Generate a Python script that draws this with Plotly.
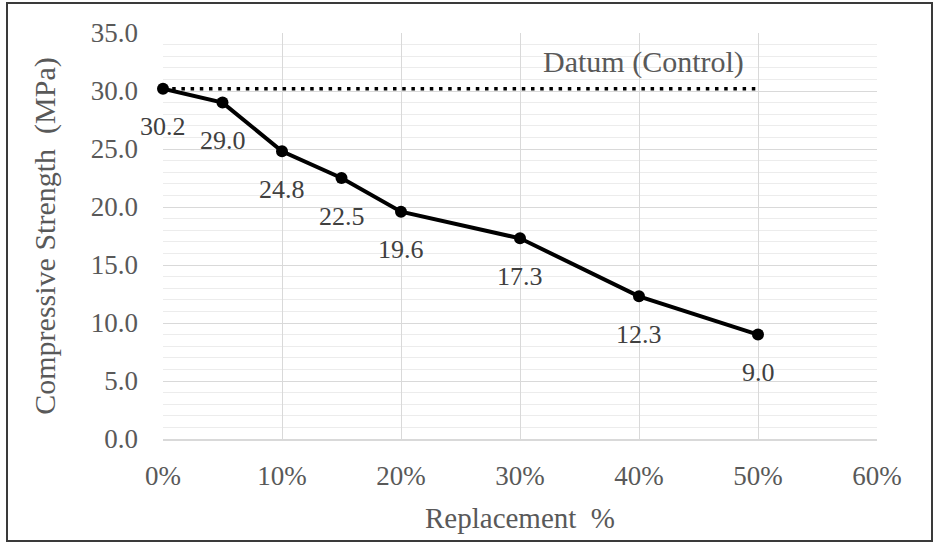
import plotly.graph_objects as go

replacement = [0.0, 0.05, 0.10, 0.15, 0.20, 0.30, 0.40, 0.50]
strength = [30.2, 29.0, 24.8, 22.5, 19.6, 17.3, 12.3, 9.0]
datum_x = [0.0, 0.50]
datum_y = [30.2, 30.2]
label_text = ["30.2", "29.0", "24.8", "22.5", "19.6", "17.3", "12.3", "9.0"]

W, H = 936, 543
ML, MR, MT, MB = 163, 59, 33, 104
FONT = "Liberation Serif"

fig = go.Figure()
fig.add_trace(go.Scatter(
    x=datum_x, y=datum_y, mode="lines",
    line=dict(color="black", width=3.5, dash="3.5px,5.7px"),
    showlegend=False, hoverinfo="skip", cliponaxis=False))
fig.add_trace(go.Scatter(
    x=replacement, y=strength, mode="lines+markers",
    line=dict(color="black", width=4),
    marker=dict(color="black", size=12),
    showlegend=False, cliponaxis=False))

for xv, yv, t in zip(replacement, strength, label_text):
    fig.add_annotation(x=xv, y=yv, text=t, showarrow=False,
                       xanchor="center", yanchor="middle", yshift=-38,
                       font=dict(family=FONT, size=26, color="#404040"))

fig.add_annotation(x=datum_x[-1], y=datum_y[-1], text="Datum (Control)",
                   showarrow=False, xanchor="right", yanchor="middle",
                   xshift=-12, yshift=27,
                   font=dict(family=FONT, size=30, color="#595959"))

pw = W - ML - MR
ph = H - MT - MB
def px2paper_x(px):
    return (px - ML) / pw
def py2paper_y(py):
    return (H - MB - py) / ph

fig.add_shape(type="rect", xref="paper", yref="paper",
              x0=px2paper_x(7), x1=px2paper_x(932),
              y0=py2paper_y(541), y1=py2paper_y(3),
              line=dict(color="#3a3a3a", width=2), fillcolor="rgba(0,0,0,0)",
              layer="above")

fig.update_layout(
    width=W, height=H,
    margin=dict(l=ML, r=MR, t=MT, b=MB),
    paper_bgcolor="white", plot_bgcolor="white",
    font=dict(family=FONT, color="#595959"),
    xaxis=dict(
        range=[0, 0.6], dtick=0.1, tick0=0, tickformat=".0%",
        showgrid=True, gridcolor="#d9d9d9", gridwidth=1,
        zeroline=False, showline=True, linecolor="#d9d9d9", linewidth=1.5,
        ticks="", ticklabelstandoff=12,
        tickfont=dict(family=FONT, size=27, color="#595959"),
        title=dict(text="Replacement  %", font=dict(family=FONT, size=29, color="#595959"),
                   standoff=18),
    ),
    yaxis=dict(
        range=[0, 35], dtick=5, tick0=0, tickformat=".1f",
        showgrid=True, gridcolor="#d9d9d9", gridwidth=1,
        minor=dict(dtick=1, showgrid=True, gridcolor="#ececec", gridwidth=1),
        zeroline=False, showline=False,
        ticks="", ticklabelstandoff=24,
        tickfont=dict(family=FONT, size=27, color="#595959"),
        title=dict(text="Compressive Strength  (MPa)", font=dict(family=FONT, size=30, color="#595959"),
                   standoff=26),
    ),
)

fig.write_html("out.html")
